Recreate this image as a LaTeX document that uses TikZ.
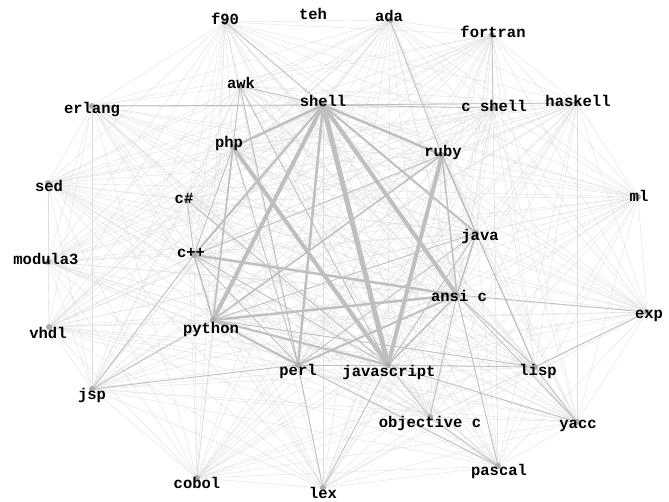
\documentclass[tikz,border=0pt]{standalone}
\usepackage{fontspec}
\newfontfamily\langfont{Liberation Mono}

\begin{document}
\begin{tikzpicture} [x=1pt, y=-1pt,
  faint/.style={gray!27, line width=0.35pt},
  mid/.style={gray!50, line width=0.8pt},
  heavy/.style={gray!50},
  dot/.style={fill=gray!65},
  lang/.style={font=\langfont\bfseries\fontsize{15.5}{16}\selectfont, inner sep=0pt, text=black}]
 \useasboundingbox (0,0) rectangle (669,502);
 \foreach \n/\x/\y in {f90/225/22, teh/313/14, ada/390/20, fortran/492/35, awk/240/86,
   shell/323/105, erlang/92/106, cshell/493/108, haskell/577/103, php/233/147,
   ruby/442/155, sed/48/183, csharp/187/200, ml/638/197, java/476/233, cpp/194/255,
   modula3/48/262, ansic/457/295, exp/647/312, python/213/320, vhdl/49/327,
   perl/298/365, javascript/388/365, lisp/535/367, jsp/92/389, objc/430/417,
   yacc/577/422, pascal/498/466, cobol/197/478, lex/323/488}
   \coordinate (\n) at (\x,\y);
 % faint edges, every pair
 \foreach \a [count=\i] in {f90, ada, fortran, awk, shell, erlang, cshell, haskell, php,
   ruby, sed, csharp, ml, java, cpp, modula3, ansic, exp, python, vhdl, perl,
   javascript, lisp, jsp, objc, yacc, pascal, cobol, lex}
   \foreach \b [count=\j] in {f90, ada, fortran, awk, shell, erlang, cshell, haskell, php,
     ruby, sed, csharp, ml, java, cpp, modula3, ansic, exp, python, vhdl, perl,
     javascript, lisp, jsp, objc, yacc, pascal, cobol, lex}
     {\ifnum\j>\i \draw[faint] (\a) -- (\b); \fi}
 % middle edges
 \foreach \a/\b in {awk/shell, awk/python, awk/perl, awk/javascript, erlang/shell,
   cshell/shell, haskell/shell, php/perl, php/cpp, csharp/cpp, csharp/javascript,
   cpp/jsp, python/jsp, jsp/perl, perl/lex, javascript/lex, ansic/lisp, ansic/yacc,
   ansic/pascal, ansic/objc, javascript/lisp, javascript/yacc, javascript/objc,
   lisp/yacc, objc/pascal, pascal/perl, java/lisp, ruby/lisp, java/javascript,
   java/perl, perl/javascript, ada/ruby, fortran/cshell, python/lisp, ansic/exp,
   lisp/exp, cpp/javascript, cpp/perl, python/java, ruby/cpp, f90/shell}
   \draw[mid] (\a) -- (\b);
 % heavy edges
 \foreach \a/\b/\w in {shell/python/4, shell/perl/2.5, shell/javascript/5, shell/ansic/4,
   shell/php/2.5, shell/cpp/2, shell/ruby/2.5, shell/java/2, php/javascript/4,
   ruby/javascript/4, ruby/python/1.5, cpp/ansic/2.5, python/ansic/2.5, perl/ansic/2,
   javascript/ansic/1.5, python/perl/2, python/javascript/2, cpp/python/1.5,
   php/python/1.5, ruby/ansic/1.5, ruby/java/1.5, java/ansic/1.5}
   \draw[heavy, line width=\w pt] (\a) -- (\b);
 \foreach \n in {f90, ada, fortran, awk, shell, erlang, cshell, haskell, php,
   ruby, sed, csharp, ml, java, cpp, modula3, ansic, exp, python, vhdl, perl,
   javascript, lisp, jsp, objc, yacc, pascal, cobol, lex}
   \fill[dot] (\n) circle (3);
 \foreach \n/\t/\dx/\dy in {f90/f90/0/-3, teh/teh/0/0, ada/ada/-1/-4, fortran/fortran/1/-3,
   awk/awk/1/-3, shell/shell/0/-4, erlang/erlang/0/4, cshell/c shell/1/-2,
   haskell/haskell/1/-2, php/php/-4/-4, ruby/ruby/1/-3, sed/sed/1/3, csharp/c\#/-3/-2,
   ml/ml/1/-1, java/java/4/3, cpp/c++/-3/-2, modula3/modula3/-2/-3, ansic/ansi c/2/1,
   exp/exp/2/4, python/python/-2/9, vhdl/vhdl/-1/6, perl/perl/0/6,
   javascript/javascript/1/7, lisp/lisp/3/4, jsp/jsp/0/6, objc/objective c/0/6,
   yacc/yacc/1/4, pascal/pascal/1/5, cobol/cobol/0/5, lex/lex/0/5}
   \node[lang] (\n-t) at ([shift={(\dx,\dy)}]\n) {\t};
\end{tikzpicture}
\end{document}
